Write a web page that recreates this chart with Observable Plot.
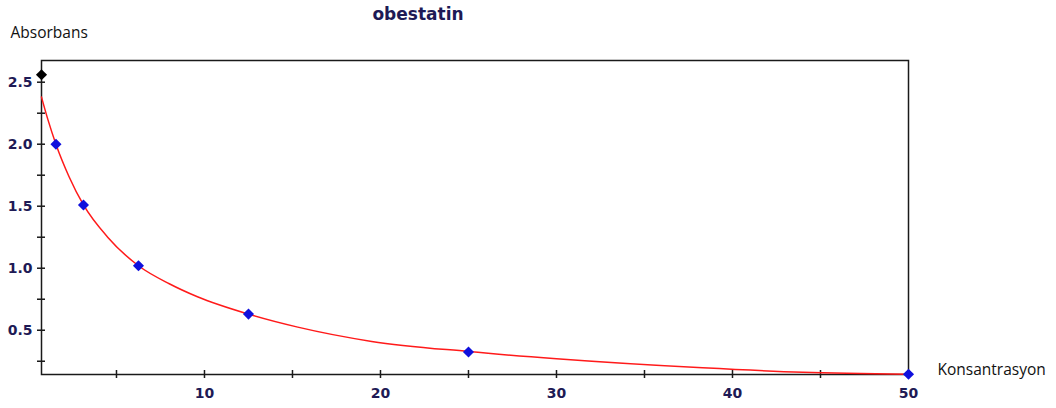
<!DOCTYPE html>
<html>
<head>
<meta charset="utf-8">
<script src="https://cdn.jsdelivr.net/npm/d3@7"></script>
<script src="https://cdn.jsdelivr.net/npm/@observablehq/plot@0.6"></script>
<style>
  html, body { margin: 0; padding: 0; background: #fff; }
  #chart svg { display: block; }
</style>
</head>
<body>
<div id="chart"></div>
<script>
// Standards (concentration, absorbance)
const stdConc = [0, 1.5625, 3.125, 6.25, 12.5, 25, 50];
const stdAbs  = [2.56, 2.0, 1.51, 1.02, 0.63, 0.325, 0.145];

// Fitted curve
const curveConc = [0.74, 1.1, 1.56, 2.3, 3.125, 4.5, 6.25, 8.0, 9.6, 12.5, 15.3, 19.5, 25, 30, 38.3, 44, 50];
const curveAbs  = [2.38, 2.2, 2.0, 1.74, 1.51, 1.25, 1.02, 0.875, 0.77, 0.63, 0.525, 0.41, 0.328, 0.27, 0.197, 0.161, 0.145];

// Axis ticks
const xLabelTicks = [10, 20, 30, 40, 50];
const xAllTicks = [5, 10, 15, 20, 25, 30, 35, 40, 45, 50];
const yLabelTicks = [0.5, 1.0, 1.5, 2.0, 2.5];
const yAllTicks = [0.25, 0.5, 0.75, 1.0, 1.25, 1.5, 1.75, 2.0, 2.25, 2.5];

const title = "obestatin";
const yTitle = "Absorbans";
const xTitle = "Konsantrasyon";

const standards = stdConc.map((c, i) => ({c, a: stdAbs[i], zero: c === 0}));
const curve = curveConc.map((c, i) => ({c, a: curveAbs[i]}));

const labelColor = "#1e1a55";
const axisColor = "#1a1a1a";
const boldFont = "DejaVu Sans, Verdana, sans-serif";

const chart = Plot.plot({
  width: 1056,
  height: 408,
  marginLeft: 41,
  marginRight: 148,
  marginTop: 60,
  marginBottom: 34,
  style: {fontFamily: boldFont, background: "#fff"},
  x: {domain: [0.74, 50], clamp: true},
  y: {domain: [0.143, 2.675]},
  marks: [
    Plot.frame({stroke: axisColor, strokeWidth: 1.5}),
    // crossing tick marks
    Plot.axisX({ticks: xAllTicks, tickSize: 8, dy: -4, tickFormat: () => "", label: null, stroke: axisColor, strokeWidth: 1.5}),
    Plot.axisY({ticks: yAllTicks, tickSize: 8, dx: 4, tickFormat: () => "", label: null, stroke: axisColor, strokeWidth: 1.5}),
    // labels
    Plot.axisX({ticks: xLabelTicks, tickSize: 0, tickPadding: 14, label: null, fontSize: 14, fontWeight: "bold", fill: labelColor, fontFamily: boldFont}),
    Plot.axisY({ticks: yLabelTicks, tickSize: 0, tickPadding: 9, tickFormat: d3.format(".1f"), label: null, fontSize: 14, fontWeight: "bold", fill: labelColor, fontFamily: boldFont}),
    // curve
    Plot.line(curve, {x: "c", y: "a", stroke: "#ff1a1a", strokeWidth: 1.5, curve: "monotone-x"}),
    // standards
    Plot.dot(standards, {x: "c", y: "a", symbol: "diamond2", r: 5, fill: d => d.zero ? "#000" : "#1010dd", stroke: "none"}),
    // titles
    Plot.text([title], {frameAnchor: "top", dx: -57, dy: -53, fontSize: 17, fontWeight: "bold", fill: labelColor, fontFamily: boldFont}),
    Plot.text([yTitle], {frameAnchor: "top-left", dx: -31, dy: -34, textAnchor: "start", fontSize: 15.5, fill: "#111", fontFamily: "Open Sans, sans-serif"}),
    Plot.text([xTitle], {frameAnchor: "bottom-right", dx: 29, dy: 0, textAnchor: "start", fontSize: 15.5, fill: "#111", fontFamily: "Open Sans, sans-serif"})
  ]
});
document.getElementById("chart").append(chart);
</script>
</body>
</html>
